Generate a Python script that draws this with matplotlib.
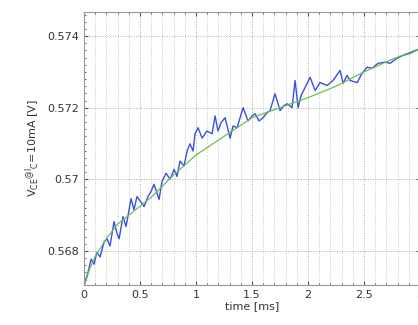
import matplotlib
matplotlib.use("Agg")
import matplotlib.pyplot as plt
from matplotlib.ticker import MultipleLocator

# measured V_CE (blue) and fitted curve (green), time in ms
t_meas = [0.000, 0.036, 0.063, 0.089, 0.116, 0.143, 0.179, 0.205, 0.232, 0.268,
          0.295, 0.313, 0.348, 0.375, 0.420, 0.446, 0.473, 0.491, 0.536, 0.571,
          0.598, 0.625, 0.670, 0.696, 0.732, 0.768, 0.804, 0.830, 0.857, 0.893,
          0.920, 0.946, 0.973, 0.991, 1.018, 1.054, 1.098, 1.143, 1.170, 1.196,
          1.223, 1.259, 1.304, 1.330, 1.366, 1.420, 1.464, 1.500, 1.527, 1.563,
          1.598, 1.634, 1.661, 1.705, 1.750, 1.786, 1.813, 1.857, 1.884, 1.911,
          1.938, 1.973, 2.018, 2.063, 2.107, 2.170, 2.223, 2.286, 2.313, 2.348,
          2.375, 2.438, 2.482, 2.527, 2.571, 2.625, 2.688, 2.732, 2.795, 2.848,
          2.911, 2.973]
v_meas = [0.56704, 0.56741, 0.56777, 0.56763, 0.56797, 0.56783, 0.56825, 0.56834, 0.56814, 0.56882,
          0.56848, 0.56834, 0.56896, 0.56868, 0.56946, 0.56915, 0.56952, 0.56944, 0.56924, 0.56952,
          0.56966, 0.56986, 0.56944, 0.56994, 0.57017, 0.57000, 0.57028, 0.57008, 0.57051, 0.57037,
          0.57079, 0.57099, 0.57079, 0.57127, 0.57144, 0.57115, 0.57135, 0.57127, 0.57177, 0.57135,
          0.57158, 0.57172, 0.57115, 0.57149, 0.57144, 0.57200, 0.57163, 0.57177, 0.57183, 0.57163,
          0.57172, 0.57186, 0.57192, 0.57239, 0.57192, 0.57206, 0.57211, 0.57200, 0.57276, 0.57200,
          0.57234, 0.57256, 0.57285, 0.57248, 0.57270, 0.57262, 0.57276, 0.57304, 0.57268, 0.57290,
          0.57276, 0.57270, 0.57296, 0.57313, 0.57310, 0.57324, 0.57327, 0.57324, 0.57338, 0.57346,
          0.57352, 0.57361]

t_fit = [0, 0.05, 0.1, 0.2, 0.3, 0.4, 0.5, 0.6, 0.8, 1.0, 1.25, 1.5, 1.75, 2.0, 2.25, 2.5, 2.75, 3.0]
v_fit = [0.5670, 0.5675, 0.56785, 0.56835, 0.56875, 0.5690, 0.56925, 0.5695, 0.57012, 0.57068,
         0.5712, 0.57172, 0.5720, 0.57228, 0.5726, 0.5730, 0.57335, 0.57366]

x_ticks = [0, 0.5, 1, 1.5, 2, 2.5, 3]
x_labels = ['0', '0.5', '1', '1.5', '2', '2.5', '3']
y_ticks = [0.568, 0.570, 0.572, 0.574]
y_labels = ['0.568', '0.57', '0.572', '0.574']

plt.rcParams['font.family'] = ['DejaVu Sans']
plt.rcParams['mathtext.default'] = 'regular'
fig = plt.figure(figsize=(4.18, 3.25), dpi=100)
ax = fig.add_axes([0.201, 0.123, 0.804, 0.840])

ax.plot(t_meas, v_meas, color='#3a4fe0', lw=1.0)
ax.plot(t_fit, v_fit, color='#6cbf50', lw=0.9)

ax.set_xlim(0, 3)
ax.set_ylim(0.56705, 0.57467)
ax.set_xticks(x_ticks)
ax.set_xticklabels(x_labels)
ax.set_yticks(y_ticks)
ax.set_yticklabels(y_labels)
ax.xaxis.set_minor_locator(MultipleLocator(0.1))
ax.yaxis.set_minor_locator(MultipleLocator(0.0002))
ax.tick_params(which='both', direction='in', top=True, right=True,
               labelsize=8, colors='#555555', labelcolor='#333333')
ax.tick_params(which='major', length=3)
ax.tick_params(which='minor', length=1.5)
ax.grid(True, which='major', ls=':', color='#aaaaaa', lw=0.7)
ax.grid(True, which='minor', axis='x', ls=':', color='#bbbbbb', lw=0.6)
for s in ax.spines.values():
    s.set_color('#999999')

ax.set_xlabel('time [ms]', fontsize=8, color='#333333', labelpad=1)
ax.set_ylabel(r'V$_{CE}$$^{@I}$$_{C}$=10mA [V]', fontsize=8, color='#333333', labelpad=4)

fig.savefig('out.png', dpi=100)
